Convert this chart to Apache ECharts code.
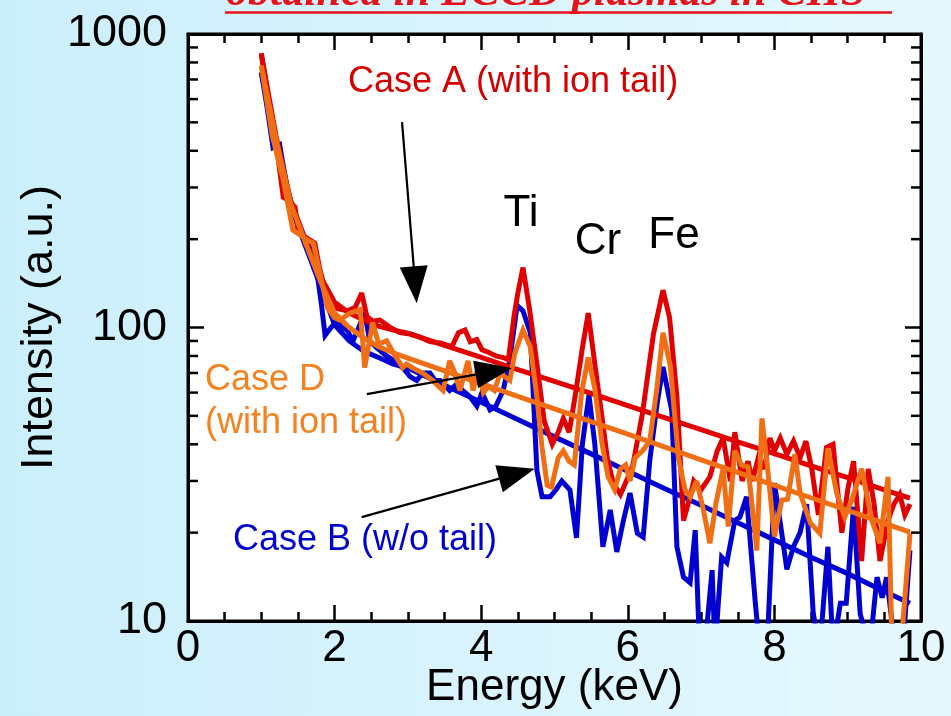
<!DOCTYPE html>
<html><head><meta charset="utf-8">
<script src="https://cdn.jsdelivr.net/npm/echarts@6/dist/echarts.min.js"></script>
<style>html,body{margin:0;padding:0;}
#c{width:951px;height:716px;background:linear-gradient(to right,#cbeffc,#e6f8fe);}</style>
</head><body><div id="c"></div>
<script>
// ---- tick values ----
const xTickInterval = 2;
const yMinorTicks = [20,30,40,50,60,70,80,90,200,300,400,500,600,700,800,900];

// ---- Case A (with ion tail), red: measured spectrum [keV, intensity] ----
const caseA = [[1.0,860],[1.1,600],[1.2,430],[1.3,278],[1.38,270],[1.46,257],[1.5,215],[1.58,205],[1.66,199],[1.73,194],[1.8,157],[1.9,127],[1.98,117],[2.1,115],[2.17,114],[2.28,117],[2.37,131],[2.44,109],[2.52,105],[2.62,106],[2.76,100],[2.89,96],[3.03,95],[3.17,92.5],[3.3,89.5],[3.44,88.6],[3.6,86],[3.69,96],[3.78,98],[3.85,89.5],[3.94,91],[4.01,84],[4.09,82.5],[4.2,80],[4.3,79],[4.37,77.6],[4.45,110],[4.5,131],[4.57,160],[4.66,115],[4.76,75],[4.86,48],[4.97,40],[5.05,44],[5.12,49],[5.2,44],[5.28,58],[5.38,85],[5.46,112],[5.55,75],[5.65,49],[5.72,36],[5.8,29.5],[5.9,27],[5.98,30],[6.07,34],[6.2,51],[6.35,95],[6.48,134],[6.57,108],[6.67,58],[6.76,22],[6.85,26.5],[6.9,30],[7.0,28],[7.12,31],[7.22,38],[7.3,42],[7.4,30],[7.46,44],[7.56,30],[7.64,35],[7.7,30],[7.78,36],[7.86,33],[7.94,42],[8.0,38],[8.08,42],[8.17,37],[8.26,41],[8.35,36],[8.43,41],[8.51,33],[8.6,23],[8.71,39],[8.8,40],[8.92,20],[9.0,28],[9.08,35],[9.19,16],[9.28,33],[9.36,25],[9.44,16],[9.55,22],[9.63,25],[9.71,27],[9.78,23],[9.85,25]];
const caseAFit = [[1.0,850],[1.2,450],[1.4,270],[1.6,200],[1.8,150],[2.0,122],[2.2,112],[2.4,106],[2.6,101],[2.8,98],[3.0,95.6],[3.5,86.9],[4.0,79.1],[4.5,71.9],[5.0,65.5],[5.5,59.6],[6.0,54.2],[6.5,49.3],[7.0,44.9],[7.5,40.8],[8.0,37.2],[8.5,33.8],[9.0,30.8],[9.5,28.0],[9.85,26.2]];

// ---- Case B (w/o tail), blue ----
const caseB = [[1.0,740],[1.08,560],[1.16,410],[1.25,420],[1.35,300],[1.45,245],[1.55,210],[1.65,190],[1.75,160],[1.82,120],[1.87,94],[1.95,100],[2.03,105],[2.1,100],[2.17,98],[2.25,90],[2.33,100],[2.41,112],[2.48,90],[2.58,85],[2.71,80],[2.85,76],[2.95,72],[3.03,68],[3.12,66],[3.2,70],[3.3,70],[3.37,66],[3.44,66],[3.57,61],[3.66,64],[3.75,61],[3.85,58],[3.94,54],[4.01,60],[4.12,52.4],[4.2,54],[4.3,61],[4.39,77.6],[4.49,119],[4.57,114],[4.67,96],[4.76,32.6],[4.83,26.5],[4.94,26.5],[5.02,28],[5.1,30],[5.21,28],[5.3,19.2],[5.38,40],[5.47,59],[5.55,40],[5.66,17.9],[5.76,23.9],[5.85,17.2],[5.94,22],[6.03,27.3],[6.13,19.9],[6.21,19.3],[6.3,35.3],[6.4,55],[6.48,73.4],[6.6,52],[6.67,17.9],[6.76,14.1],[6.85,13.5],[6.92,20.4],[6.98,8],[7.05,8],[7.15,14.9],[7.19,8],[7.28,16.5],[7.35,15.8],[7.46,22],[7.53,22.6],[7.62,26.5],[7.74,11.5],[7.8,8],[7.9,8],[8.0,29.5],[8.08,21.6],[8.17,15],[8.26,17.9],[8.35,20],[8.44,25],[8.53,10.6],[8.62,8],[8.73,17.9],[8.8,8],[8.9,11.5],[8.98,11.5],[9.08,24.5],[9.17,10.6],[9.3,8],[9.4,14.1],[9.47,12],[9.53,14.1],[9.65,8],[9.75,8],[9.85,17.4]];
const caseBFit = [[1.0,740],[1.2,430],[1.4,260],[1.6,190],[1.8,140],[2.0,102],[2.2,90],[2.4,83],[2.6,79],[2.8,75],[3.0,72.8],[3.5,63.6],[4.0,55.6],[4.5,48.6],[5.0,42.4],[5.5,37.1],[6.0,32.4],[6.5,28.3],[7.0,24.8],[7.5,21.6],[8.0,18.9],[8.5,16.5],[9.0,14.5],[9.5,12.6],[9.85,11.5]];

// ---- Case D (with ion tail), orange ----
const caseD = [[1.0,780],[1.15,450],[1.3,318],[1.43,215],[1.55,205],[1.62,199],[1.71,194],[1.8,153],[1.9,117],[2.0,108],[2.07,106],[2.21,112],[2.35,115],[2.41,73],[2.52,104],[2.6,88],[2.71,90],[2.8,82],[2.93,73],[2.98,75],[3.1,72],[3.2,70],[3.34,66],[3.42,63],[3.48,61],[3.57,77],[3.64,70],[3.71,61],[3.82,77],[3.89,61],[3.96,74],[4.03,60],[4.1,63],[4.18,61],[4.26,70],[4.32,68],[4.39,66],[4.46,82],[4.57,98],[4.67,86],[4.76,58],[4.83,39],[4.9,29],[4.96,28.6],[5.05,36],[5.12,38],[5.2,35],[5.27,34],[5.37,60],[5.46,79],[5.55,62],[5.65,40],[5.73,31],[5.82,28],[5.9,33],[5.97,34],[6.03,30],[6.1,36],[6.2,38],[6.3,41],[6.4,63],[6.48,96],[6.58,74],[6.69,36],[6.78,28],[6.85,26.5],[6.94,30],[7.03,24],[7.12,18.4],[7.2,25],[7.3,33],[7.37,21],[7.46,38],[7.55,34],[7.64,33.5],[7.76,17.4],[7.83,49],[7.9,34.5],[8.0,19.4],[8.1,25.8],[8.18,26],[8.28,37],[8.35,27.3],[8.49,21.6],[8.62,19.9],[8.73,38.8],[8.85,27.3],[8.96,22.6],[9.06,26],[9.19,33],[9.33,22],[9.44,18.4],[9.55,31],[9.6,9],[9.74,9],[9.85,19.9]];
const caseDFit = [[1.0,780],[1.2,440],[1.4,265],[1.6,195],[1.8,145],[2.0,112],[2.2,100],[2.4,92],[2.6,86],[2.8,82],[3.0,78.6],[3.5,71.1],[4.0,64.4],[4.5,58.3],[5.0,52.8],[5.5,47.8],[6.0,43.3],[6.5,39.2],[7.0,35.4],[7.5,32.1],[8.0,29.0],[8.5,26.3],[9.0,23.8],[9.5,21.5],[9.85,20.1]];

// ---- annotation arrows, in data coordinates [keV, intensity] ----
const arrowA = {from:[2.92,501], to:[3.12,121]};
const arrowD = {from:[2.44,59.3], to:[4.42,72.8]};
const arrowB = {from:[2.37,22.6], to:[4.73,33.0]};

const RED = '#e00000', BLUE = '#0000d2', ORANGE = '#f06e14';
const FONT = '"Liberation Sans", Arial, sans-serif';

const chart = echarts.init(document.getElementById('c'), null, {renderer:'canvas'});

function lineSeries(data, color) {
  return {type:'line', data, symbol:'none', showSymbol:false, clip:true,
    lineStyle:{color, width:5, join:'miter', miterLimit:3}, itemStyle:{color},
    emphasis:{disabled:true}, animation:false, xAxisIndex:0, yAxisIndex:0};
}
const axLine = {show:true, onZero:false, lineStyle:{color:'#000', width:3}};
const tickStyle = {color:'#000', width:2.5};

const option = {
  animation:false,
  grid:{left:188, right:30, top:34, bottom:95, containLabel:false, outerBoundsMode:'none',
        show:true, backgroundColor:'#fff', borderColor:'#000', borderWidth:3},
  xAxis:[
    {type:'value', min:0, max:10, interval:xTickInterval, position:'bottom',
     axisLine:axLine, axisTick:{inside:true, length:16, lineStyle:tickStyle},
     minorTick:{show:true, splitNumber:4, length:9, lineStyle:tickStyle},
     splitLine:{show:false}, minorSplitLine:{show:false},
     axisLabel:{fontSize:44, color:'#000', fontFamily:FONT, margin:6},
     name:'Energy (keV)', nameLocation:'middle', nameGap:45, nameMoveOverlap:false,
     nameTextStyle:{fontSize:44, color:'#000', fontFamily:FONT}},
    {type:'value', min:0, max:10, interval:xTickInterval, position:'top',
     axisLine:axLine, axisTick:{inside:true, length:16, lineStyle:tickStyle},
     minorTick:{show:true, splitNumber:4, length:9, lineStyle:tickStyle},
     splitLine:{show:false}, axisLabel:{show:false}}
  ],
  yAxis:[
    {type:'log', logBase:10, min:10, max:1000, position:'left',
     axisLine:axLine, axisTick:{inside:true, length:16, lineStyle:tickStyle},
     splitLine:{show:false},
     axisLabel:{fontSize:45, color:'#000', fontFamily:FONT, margin:21, formatter:v => String(Math.round(v))},
     name:'Intensity (a.u.)', nameLocation:'middle', nameGap:126, nameRotate:90, nameMoveOverlap:false,
     nameTextStyle:{fontSize:45, color:'#000', fontFamily:FONT}},
    {type:'log', logBase:10, min:10, max:1000, position:'right',
     axisLine:axLine, axisTick:{inside:true, length:16, lineStyle:tickStyle},
     splitLine:{show:false}, axisLabel:{show:false}}
  ],
  series:[
    lineSeries(caseBFit, BLUE),
    lineSeries(caseB, BLUE),
    lineSeries(caseAFit, RED),
    lineSeries(caseA, RED),
    lineSeries(caseDFit, ORANGE),
    lineSeries(caseD, ORANGE)
  ]
};
chart.setOption(option);

// ---- overlay: log minor ticks, arrows, texts ----
const px = p => chart.convertToPixel({gridIndex:0}, p);
const g = [];
const leftX = px([0,10])[0], rightX = px([10,10])[0];
yMinorTicks.forEach(v => {
  const y = chart.convertToPixel({yAxisIndex:0}, v);
  g.push({type:'line', z:50, shape:{x1:leftX, y1:y, x2:leftX+10, y2:y}, style:{stroke:'#000', lineWidth:2.5}});
  g.push({type:'line', z:50, shape:{x1:rightX-10, y1:y, x2:rightX, y2:y}, style:{stroke:'#000', lineWidth:2.5}});
});
function arrow(a) {
  const p0 = px(a.from), p1 = px(a.to);
  const dx = p1[0]-p0[0], dy = p1[1]-p0[1], len = Math.hypot(dx,dy);
  const ux = dx/len, uy = dy/len, L = 37, W = 14;
  const bx = p1[0]-ux*L, by = p1[1]-uy*L;
  g.push({type:'line', z:100, shape:{x1:p0[0], y1:p0[1], x2:bx+ux*4, y2:by+uy*4}, style:{stroke:'#000', lineWidth:2.2}});
  g.push({type:'polygon', z:100, shape:{points:[[p1[0],p1[1]],[bx-uy*W,by+ux*W],[bx+uy*W,by-ux*W]]}, style:{fill:'#000'}});
}
[arrowA, arrowD, arrowB].forEach(arrow);

function txt(x, y, text, size, color, align) {
  g.push({type:'text', z:100, x, y, style:{text, fontSize:size, fontFamily:FONT, fill:color, align:align||'left', verticalAlign:'middle'}});
}
txt(348, 82, 'Case A (with ion tail)', 36, '#d40000');
txt(205, 380, 'Case D', 36, '#f58220');
txt(205, 423, '(with ion tail)', 36, '#f58220');
txt(233, 540, 'Case B (w/o tail)', 36, '#0000cc');
txt(521, 214, 'Ti', 44, '#000', 'center');
txt(598, 242, 'Cr', 44, '#000', 'center');
txt(674, 236, 'Fe', 44, '#000', 'center');

// cropped title at top
g.push({type:'text', z:100, x:226, y:-6, style:{text:'obtained in ECCD plasmas in CHS', fontSize:44, fontFamily:'"Liberation Serif", "Times New Roman", serif', fontWeight:'bold', fontStyle:'italic', fill:'#e8101a', align:'left', verticalAlign:'middle'}});
g.push({type:'line', z:100, shape:{x1:225, y1:12.5, x2:892, y2:12.5}, style:{stroke:'#e8101a', lineWidth:2.5}});

chart.setOption({graphic:g});
</script></body></html>
